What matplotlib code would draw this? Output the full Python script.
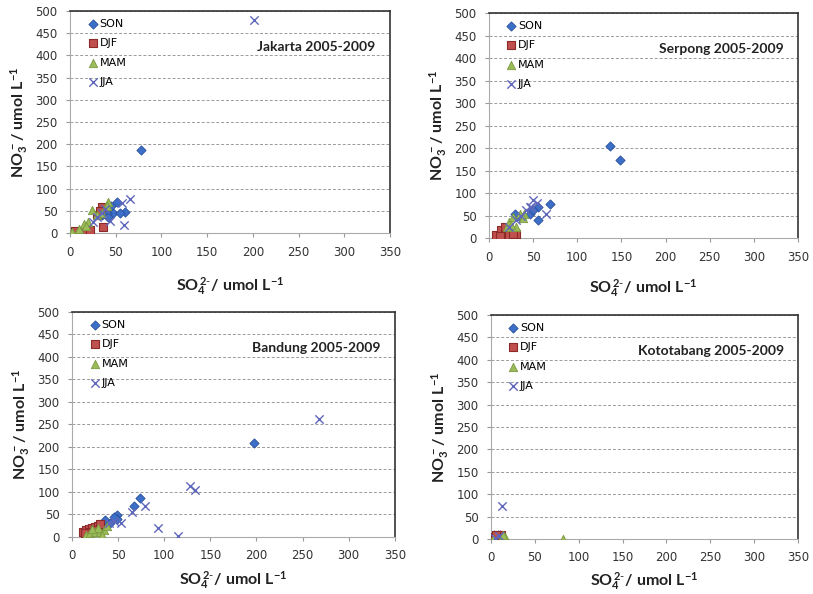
import numpy as np
from matplotlib import pyplot as plt

plt.rcParams['mathtext.fontset'] = 'custom'
plt.rcParams['mathtext.rm'] = 'Lato'
plt.rcParams['mathtext.bf'] = 'Lato:bold'
plt.rcParams['mathtext.it'] = 'Lato:italic'

seasons = ['SON', 'DJF', 'MAM', 'JJA']
x_ticks = [0, 50, 100, 150, 200, 250, 300, 350]
y_ticks = [0, 50, 100, 150, 200, 250, 300, 350, 400, 450, 500]

# (SO4, NO3) pairs, umol/L
jakarta_son = [(78, 188), (51, 70), (47, 45), (60, 47), (55, 45), (40, 45), (35, 40), (45, 60), (42, 35)]
jakarta_djf = [(5, 4), (13, 4), (18, 5), (22, 7), (36, 13), (35, 58), (30, 40), (33, 50)]
jakarta_mam = [(2, 2), (10, 10), (15, 20), (20, 25), (24, 52), (30, 40), (42, 71), (40, 60), (35, 45), (18, 15)]
jakarta_jja = [(201, 480), (59, 18), (66, 76), (57, 67), (44, 26), (30, 35), (35, 45), (38, 55), (25, 25)]

serpong_son = [(137, 205), (148, 173), (69, 75), (55, 69), (55, 39), (46, 54), (35, 47), (29, 54), (50, 62)]
serpong_djf = [(8, 7), (14, 17), (23, 6), (31, 10), (18, 25), (12, 5), (27, 8)]
serpong_mam = [(20, 25), (23, 36), (27, 47), (35, 54), (40, 54), (31, 25), (25, 30), (38, 45)]
serpong_jja = [(50, 84), (65, 54), (23, 25), (42, 62), (46, 69), (31, 39), (54, 77), (48, 70), (36, 48)]

bandung_son = [(197, 209), (74, 87), (67, 69), (49, 48), (49, 41), (36, 37), (41, 30), (31, 22), (45, 45)]
bandung_djf = [(12, 10), (15, 15), (18, 18), (22, 20), (25, 22), (28, 25), (30, 28), (20, 12), (25, 15), (14, 8)]
bandung_mam = [(15, 5), (20, 8), (25, 10), (30, 12), (35, 15), (33, 5), (28, 20), (38, 25), (22, 18)]
bandung_jja = [(268, 263), (128, 113), (133, 105), (79, 68), (65, 55), (53, 30), (45, 35), (93, 20), (115, 3), (40, 30)]

koto_son = [(2, 2), (5, 5), (8, 8), (10, 6), (12, 4), (3, 8), (7, 3), (10, 10)]
koto_djf = [(4, 4), (8, 6), (11, 9), (6, 10)]
koto_mam = [(16, 4), (14, 8), (82, 1), (2, 1)]
koto_jja = [(13, 74), (5, 3), (9, 6)]

styles = {
    'SON': dict(marker='D', s=22, c='#3B6FC8', edgecolors='#2A4F9A', linewidths=0.6),
    'DJF': dict(marker='s', s=34, c='#C0504D', edgecolors='#8B2A28', linewidths=0.8),
    'MAM': dict(marker='^', s=36, c='#9BBB59', edgecolors='#7A9A40', linewidths=0.6),
    'JJA': dict(marker='x', s=36, c='#5F67BC', linewidths=1.0),
}


def draw_panel(fig, rect, title, data, xpad):
    ax = fig.add_axes(rect)
    for season, pts in zip(seasons, data):
        pts = np.array(pts)
        ax.scatter(pts[:, 0], pts[:, 1], label=season, zorder=3, **styles[season])
    ax.set_xlim(0, 350)
    ax.set_ylim(0, 500)
    ax.set_xticks(x_ticks)
    ax.set_yticks(y_ticks)
    ax.yaxis.grid(True, linestyle=(0, (3, 2)), color='#9A9A9A', linewidth=0.7)
    ax.set_axisbelow(True)
    ax.tick_params(labelsize=8.5, labelcolor='#333333', color='#999999', length=3, pad=6)
    for side in ['left', 'bottom']:
        ax.spines[side].set_color('#AAAAAA')
        ax.spines[side].set_linewidth(0.8)
    for side in ['top', 'right']:
        ax.spines[side].set_color('#333333')
        ax.spines[side].set_linewidth(1.2)
    ax.set_xlabel(r'$\mathbf{SO_4^{\,2\text{-}}/\ umol\ L^{-1}}$', fontsize=11.5, labelpad=xpad, color='#222222')
    ax.set_ylabel(r'$\mathbf{NO_3^{\,-}/\ umol\ L^{-1}}$', fontsize=11.5, labelpad=4, color='#222222')
    ax.text(0.955, 0.84, title, transform=ax.transAxes, ha='right', va='center',
            fontsize=10, fontweight='bold', family='Lato', color='#222222')
    ax.legend(loc='upper left', bbox_to_anchor=(0.04, 0.985), frameon=False, fontsize=8,
              labelspacing=0.85, handletextpad=0.1, handlelength=1.0, borderaxespad=0)
    return ax


fig = plt.figure(figsize=(8.13, 5.94), dpi=100)
draw_panel(fig, [0.0861, 0.6077, 0.3936, 0.3737], 'Jakarta 2005-2009',
           [jakarta_son, jakarta_djf, jakarta_mam, jakarta_jja], 12)
draw_panel(fig, [0.6015, 0.5993, 0.3800, 0.3788], 'Serpong 2005-2009',
           [serpong_son, serpong_djf, serpong_mam, serpong_jja], 10)
draw_panel(fig, [0.0886, 0.0960, 0.3970, 0.3788], 'Bandung 2005-2009',
           [bandung_son, bandung_djf, bandung_mam, bandung_jja], 5)
draw_panel(fig, [0.6040, 0.0926, 0.3776, 0.3771], 'Kototabang 2005-2009',
           [koto_son, koto_djf, koto_mam, koto_jja], 4)

plt.savefig('out.png', dpi=100)
plt.close()
